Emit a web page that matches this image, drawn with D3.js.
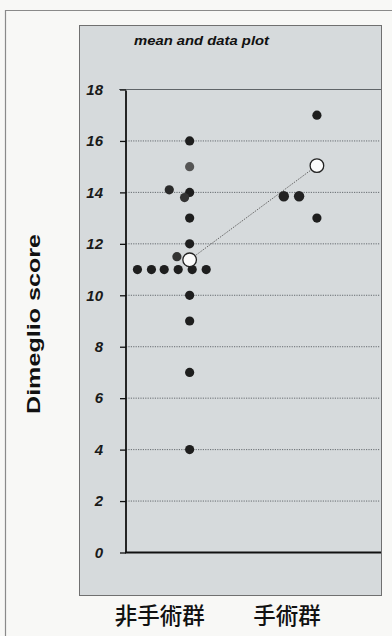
<!DOCTYPE html>
<html>
<head>
<meta charset="utf-8">
<script src="https://cdn.jsdelivr.net/npm/d3@7"></script>
<style>
  body { margin: 0; background: #f8f8f6; }
  svg { display: block; }
</style>
</head>
<body>
<div id="chart"></div>
<script>
var svgWidth = 392;
var svgHeight = 636;

// groups and their tick labels
var groups = ["非手術群", "手術群"];
var yTicks = [0, 2, 4, 6, 8, 10, 12, 14, 16, 18];

// individual scores (group index, small horizontal jitter, score)
var pointGroup = [1, 1, 1, 1, 1, 1, 1, 1, 1, 1, 1, 1, 1, 1, 1, 1, 1, 1, 2, 2, 2, 2];
var pointJitter = [0, 0, -0.16, 0, -0.04, 0, 0, -0.10, -0.41, -0.30, -0.20, -0.09, 0.02, 0.13, 0, 0, 0, 0, 0, -0.26, -0.14, 0];
var pointScore = [16, 15, 14.1, 14, 13.8, 13, 12, 11.5, 11, 11, 11, 11, 11, 11, 10, 9, 7, 4, 17, 13.85, 13.85, 13];
var pointShade = ["#1e1e1e", "#555", "#2a2a2a", "#1e1e1e", "#333", "#1e1e1e", "#1e1e1e", "#333", "#1e1e1e", "#1e1e1e", "#1e1e1e", "#1e1e1e", "#1e1e1e", "#1e1e1e", "#1e1e1e", "#1e1e1e", "#1e1e1e", "#1e1e1e", "#1e1e1e", "#222", "#222", "#1e1e1e"];

// group means
var meanGroup = [1, 2];
var meanScore = [11.38, 15.04];

var svg = d3.select("#chart")
    .append("svg")
    .attr("width", svgWidth)
    .attr("height", svgHeight);

// outer frame of the page
svg.append("path")
    .attr("d", "M5.5,636 V10.5 H392")
    .attr("fill", "none")
    .attr("stroke", "#8a8a8a")
    .attr("stroke-width", 1.2);

// grey chart panel
svg.append("rect")
    .attr("x", 79.5)
    .attr("y", 25.5)
    .attr("width", 302)
    .attr("height", 570)
    .attr("fill", "#d6dadc")
    .attr("stroke", "#707070")
    .attr("stroke-width", 1);

var xScale = d3.scaleLinear()
    .domain([0.5, 2.48])
    .range([126, 378]);

var yScale = d3.scaleLinear()
    .domain([0, 18])
    .range([552.5, 89.5]);

// title
svg.append("text")
    .attr("x", 134)
    .attr("y", 45)
    .attr("textLength", 135)
    .attr("lengthAdjust", "spacingAndGlyphs")
    .attr("font-family", "Liberation Sans, Arial, sans-serif")
    .attr("font-weight", "bold")
    .attr("font-style", "italic")
    .attr("font-size", 13)
    .attr("fill", "#111")
    .text("mean and data plot");

// dotted grid lines
svg.append("g")
    .selectAll("line")
    .data(yTicks.filter(d => d > 0 && d < 18))
    .enter()
    .append("line")
    .attr("x1", 126)
    .attr("x2", 380)
    .attr("y1", d => yScale(d))
    .attr("y2", d => yScale(d))
    .attr("stroke", "#666b70")
    .attr("stroke-width", 1)
    .attr("stroke-dasharray", "1.2,1.2");

// top border of the plot area
svg.append("line")
    .attr("x1", 119)
    .attr("x2", 381)
    .attr("y1", yScale(18))
    .attr("y2", yScale(18))
    .attr("stroke", "#5f6468")
    .attr("stroke-width", 1.2);

// y axis
var leftAxis = d3.axisLeft(yScale)
    .tickValues(yTicks)
    .tickSize(6)
    .tickPadding(17)
    .tickFormat(d3.format("d"));

var yAxis = svg.append("g")
    .attr("transform", "translate(126,0)")
    .call(leftAxis)
    .attr("font-size", null)
    .attr("font-family", null);

yAxis.select(".domain").remove();
yAxis.selectAll(".tick line")
    .attr("stroke", "#111")
    .attr("stroke-width", 1.3);
yAxis.selectAll(".tick text")
    .style("font-family", "Liberation Sans, Arial, sans-serif")
    .style("font-weight", "bold")
    .style("font-style", "italic")
    .style("font-size", "15px")
    .style("fill", "#1a1a1a");

// axis lines
svg.append("line")
    .attr("x1", 126)
    .attr("x2", 126)
    .attr("y1", yScale(18) + 1)
    .attr("y2", yScale(0))
    .attr("stroke", "#111")
    .attr("stroke-width", 1.8);

svg.append("line")
    .attr("x1", 125)
    .attr("x2", 381)
    .attr("y1", yScale(0))
    .attr("y2", yScale(0))
    .attr("stroke", "#111")
    .attr("stroke-width", 2);

// y axis title
svg.append("text")
    .attr("transform", "translate(40," + 324 + ") rotate(-90)")
    .attr("text-anchor", "middle")
    .attr("textLength", 180)
    .attr("lengthAdjust", "spacingAndGlyphs")
    .attr("font-family", "Liberation Sans, Arial, sans-serif")
    .attr("font-weight", "bold")
    .attr("font-size", 19)
    .attr("fill", "#111")
    .text("Dimeglio score");

// group labels
svg.append("g")
    .selectAll("text")
    .data(groups)
    .enter()
    .append("text")
    .attr("x", (d, i) => xScale(i + 1) - 30)
    .attr("y", 624)
    .attr("text-anchor", "middle")
    .attr("font-family", "Noto Sans CJK JP, sans-serif")
    .attr("font-weight", 500)
    .attr("font-size", 22.5)
    .attr("fill", "#111")
    .text(d => d);

// dotted line joining the means
svg.append("line")
    .attr("x1", xScale(meanGroup[0]))
    .attr("y1", yScale(meanScore[0]))
    .attr("x2", xScale(meanGroup[1]))
    .attr("y2", yScale(meanScore[1]))
    .attr("stroke", "#666")
    .attr("stroke-width", 1)
    .attr("stroke-dasharray", "1.5,1.2");

// data points
svg.append("g")
    .selectAll("circle")
    .data(pointScore)
    .enter()
    .append("circle")
    .attr("cx", (d, i) => xScale(pointGroup[i] + pointJitter[i]))
    .attr("cy", d => yScale(d))
    .attr("r", (d, i) => (pointGroup[i] === 2 && d < 14 && d > 13.5) ? 5.2 : 4.6)
    .attr("fill", (d, i) => pointShade[i]);

// means
svg.append("g")
    .selectAll("circle")
    .data(meanScore)
    .enter()
    .append("circle")
    .attr("cx", (d, i) => xScale(meanGroup[i]))
    .attr("cy", d => yScale(d))
    .attr("r", 6.8)
    .attr("fill", "#fbfbfb")
    .attr("stroke", "#222")
    .attr("stroke-width", 1.3);
</script>
</body>
</html>
